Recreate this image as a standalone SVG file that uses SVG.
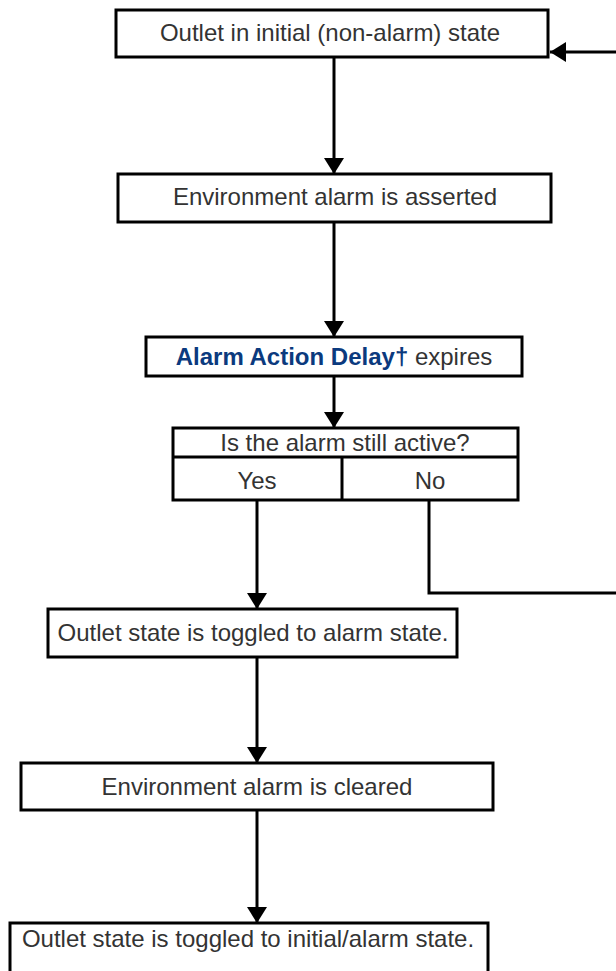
<svg xmlns="http://www.w3.org/2000/svg" width="616" height="971" viewBox="0 0 616 971">
  <style>
    .box { fill: #fff; stroke: #000; stroke-width: 3; }
    .lbl { font-family: "Liberation Sans", Arial, sans-serif; font-size: 24px; fill: #333; text-anchor: middle; }
    .em { font-weight: bold; fill: #0b3a7e; }
    .wire { fill: none; stroke: #000; stroke-width: 3; }
  </style>
  <defs>
    <marker id="head" viewBox="0 0 16 20" refX="16" refY="10" markerWidth="16" markerHeight="20" markerUnits="userSpaceOnUse" orient="auto">
      <path d="M0,0 L16,10 L0,20 Z" fill="#000"/>
    </marker>
  </defs>

  <g id="connectors">
    <line class="wire" x1="334" y1="57" x2="334" y2="174" marker-end="url(#head)"/>
    <line class="wire" x1="334" y1="222" x2="334" y2="337" marker-end="url(#head)"/>
    <line class="wire" x1="334" y1="376" x2="334" y2="428" marker-end="url(#head)"/>
    <line class="wire" x1="257" y1="500" x2="257" y2="609" marker-end="url(#head)"/>
    <polyline class="wire" points="429,500 429,593 616,593"/>
    <line class="wire" x1="616" y1="52" x2="550" y2="52" marker-end="url(#head)"/>
    <line class="wire" x1="257" y1="657" x2="257" y2="763" marker-end="url(#head)"/>
    <line class="wire" x1="257" y1="810" x2="257" y2="923" marker-end="url(#head)"/>
  </g>

  <g id="initial-state">
    <rect class="box" x="116" y="10" width="432" height="47"/>
    <text class="lbl" x="330" y="41">Outlet in initial (non-alarm) state</text>
  </g>

  <g id="alarm-asserted">
    <rect class="box" x="118" y="174" width="433" height="48"/>
    <text class="lbl" x="335" y="205">Environment alarm is asserted</text>
  </g>

  <g id="delay-expires">
    <rect class="box" x="146" y="337" width="376" height="39"/>
    <text class="lbl" x="334" y="365"><tspan class="em">Alarm Action Delay†</tspan> expires</text>
  </g>

  <g id="still-active">
    <rect class="box" x="173" y="428" width="345" height="72"/>
    <line class="wire" x1="173" y1="457" x2="518" y2="457"/>
    <line class="wire" x1="342" y1="457" x2="342" y2="500"/>
    <text class="lbl" x="345" y="451">Is the alarm still active?</text>
    <text class="lbl" x="257" y="489">Yes</text>
    <text class="lbl" x="430" y="489">No</text>
  </g>

  <g id="toggled-alarm">
    <rect class="box" x="48" y="609" width="409" height="48"/>
    <text class="lbl" x="253" y="641">Outlet state is toggled to alarm state.</text>
  </g>

  <g id="alarm-cleared">
    <rect class="box" x="21" y="763" width="472" height="47"/>
    <text class="lbl" x="257" y="795">Environment alarm is cleared</text>
  </g>

  <g id="toggled-initial">
    <rect class="box" x="10" y="923" width="478" height="60"/>
    <text class="lbl" x="248" y="947">Outlet state is toggled to initial/alarm state.</text>
  </g>
</svg>
